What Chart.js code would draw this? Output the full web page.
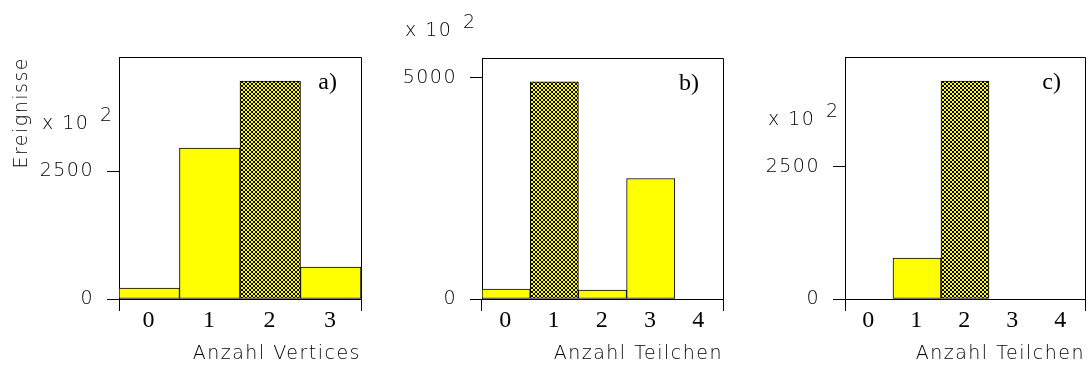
<!DOCTYPE html>
<html>
<head>
<meta charset="utf-8">
<script src="https://cdn.jsdelivr.net/npm/chart.js@4/dist/chart.umd.min.js"></script>
<style>
  html, body { margin: 0; padding: 0; background: #fff; }
  #wrap { position: relative; width: 1091px; height: 369px; }
  .panel { position: absolute; top: 0; height: 369px; }
</style>
</head>
<body>
<div id="wrap">
  <div class="panel" style="left:0;width:372px"><canvas id="chartA"></canvas></div>
  <div class="panel" style="left:372px;width:361px"><canvas id="chartB"></canvas></div>
  <div class="panel" style="left:733px;width:358px"><canvas id="chartC"></canvas></div>
</div>
<script>
// event counts in units of 10^2
const vertexBins = ['0', '1', '2', '3'];
const vertexEvents = [216, 2961, 4275, 627];

const particleBins = ['0', '1', '2', '3', '4'];
const particleEventsB = [225, 4910, 203, 2725, 0];
const particleEventsC = [0, 776, 4129, 0, 0];

const yTicksA = [0, 2500];
const yTicksB = [0, 5000];
const yTicksC = [0, 2500];

const YELLOW = '#ffff00';
const TEXT = '#000';
const GAP = '1.5px';
const SANS = { family: '"DejaVu Sans", sans-serif', size: 19, weight: 200 };
const SERIF = { family: '"Liberation Serif", "Times New Roman", serif', size: 24, lineHeight: 1 };

// black cross-hatch on yellow for the highlighted bin
function hatchPattern(ctx) {
  const tile = document.createElement('canvas');
  tile.width = tile.height = 4;
  const g = tile.getContext('2d');
  g.fillStyle = YELLOW;
  g.fillRect(0, 0, 4, 4);
  g.fillStyle = '#000';
  for (let i = 0; i < 4; i++) {
    g.fillRect(i, i, 1, 1);
    g.fillRect(3 - i, i, 1, 1);
  }
  return ctx.createPattern(tile, 'repeat');
}

// wide spacing for the thin axis lettering
const spacing = {
  id: 'spacing',
  beforeUpdate(chart) { chart.ctx.letterSpacing = GAP; },
  beforeDraw(chart) { chart.ctx.letterSpacing = GAP; }
};

// closes the box on top and right, writes the panel tag and the x 10^2 factor
const decor = {
  id: 'decor',
  afterDraw(chart, args, opts) {
    const { ctx, chartArea: a, scales } = chart;
    ctx.save();
    ctx.strokeStyle = '#000';
    ctx.lineWidth = 1;
    ctx.beginPath();
    ctx.moveTo(a.left, a.top + 0.5);
    ctx.lineTo(a.right + 0.5, a.top + 0.5);
    ctx.lineTo(a.right + 0.5, a.bottom);
    ctx.stroke();

    ctx.fillStyle = '#000';
    ctx.font = `${SERIF.size}px ${SERIF.family}`;
    ctx.textAlign = 'right';
    ctx.textBaseline = 'middle';
    ctx.letterSpacing = '0px';
    ctx.fillText(opts.tag, a.right - 24, a.top + 26);

    const yTop = scales.y.getPixelForValue(opts.factorAt) - 47;
    ctx.fillStyle = TEXT;
    ctx.font = `${SANS.weight} ${SANS.size}px ${SANS.family}`;
    ctx.letterSpacing = GAP;
    ctx.textAlign = 'left';
    ctx.fillText('x 10', a.left - 77, yTop);
    ctx.fillText('2', a.left - 19, yTop - 8);
    ctx.restore();
  }
};

// grid marks only on the outer bin edges
const edgeTick = c => (c.type === 'scale' || c.index === 0) ? '#000' : 'rgba(0,0,0,0)';

function histogram(id, bins, values, hatched, yMax, yTicks, cfg) {
  const canvas = document.getElementById(id);
  const pattern = hatchPattern(canvas.getContext('2d'));
  return new Chart(canvas, {
    type: 'bar',
    data: {
      labels: bins,
      datasets: [{
        data: values,
        backgroundColor: bins.map((b, i) => i === hatched ? pattern : YELLOW),
        borderColor: '#000',
        borderWidth: 1,
        borderSkipped: false,
        barPercentage: 1,
        categoryPercentage: 1
      }]
    },
    options: {
      responsive: true,
      maintainAspectRatio: false,
      animation: false,
      layout: { padding: { top: cfg.top, right: cfg.right, left: 0, bottom: 0 } },
      plugins: {
        legend: { display: false },
        tooltip: { enabled: false },
        decor: { tag: cfg.tag, factorAt: yTicks[yTicks.length - 1] }
      },
      scales: {
        x: {
          offset: true,
          afterFit: s => { s.height = 70; },
          grid: {
            offset: true,
            drawOnChartArea: false,
            tickLength: 12,
            color: edgeTick
          },
          border: { display: true, color: '#000', width: 1 },
          ticks: {
            autoSkip: false,
            maxRotation: 0,
            padding: -2,
            color: '#000',
            font: SERIF
          },
          title: {
            display: true,
            text: cfg.xTitle,
            align: 'end',
            color: TEXT,
            font: SANS,
            padding: { top: 0, bottom: 4 }
          }
        },
        y: {
          min: 0,
          max: yMax,
          afterBuildTicks: s => { s.ticks = yTicks.map(v => ({ value: v })); },
          afterFit: s => { s.width = cfg.left; },
          grid: { drawOnChartArea: false, tickLength: 12, color: '#000' },
          border: { display: true, color: '#000', width: 1 },
          ticks: { padding: 13, color: TEXT, font: SANS, callback: v => String(v) },
          title: {
            display: !!cfg.yTitle,
            text: cfg.yTitle || '',
            align: 'end',
            color: TEXT,
            font: SANS,
            padding: { top: 11, bottom: 0 }
          }
        }
      }
    },
    plugins: [spacing, decor]
  });
}

histogram('chartA', vertexBins, vertexEvents, 2, 4745, yTicksA,
  { tag: 'a)', xTitle: 'Anzahl Vertices', yTitle: 'Ereignisse', left: 119, right: 11, top: 57 });
histogram('chartB', particleBins, particleEventsB, 1, 5450, yTicksB,
  { tag: 'b)', xTitle: 'Anzahl Teilchen', left: 110, right: 10, top: 58 });
histogram('chartC', particleBins, particleEventsC, 2, 4583, yTicksC,
  { tag: 'c)', xTitle: 'Anzahl Teilchen', left: 112, right: 6, top: 57 });
</script>
</body>
</html>
